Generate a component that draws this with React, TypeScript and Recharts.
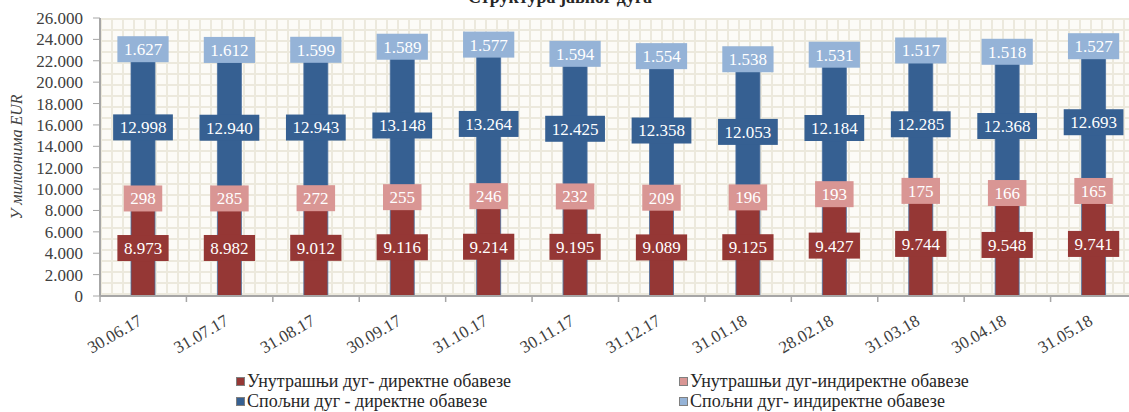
import React from 'react';
import {Bar, BarChart, CartesianGrid, LabelList, Legend, XAxis, YAxis} from 'recharts';

const dates = [
    '30.06.17', '31.07.17', '31.08.17', '30.09.17', '31.10.17', '30.11.17',
    '31.12.17', '31.01.18', '28.02.18', '31.03.18', '30.04.18', '31.05.18',
];
const domesticDirect = [8973, 8982, 9012, 9116, 9214, 9195, 9089, 9125, 9427, 9744, 9548, 9741];
const domesticIndirect = [298, 285, 272, 255, 246, 232, 209, 196, 193, 175, 166, 165];
const externalDirect = [12998, 12940, 12943, 13148, 13264, 12425, 12358, 12053, 12184, 12285, 12368, 12693];
const externalIndirect = [1627, 1612, 1599, 1589, 1577, 1594, 1554, 1538, 1531, 1517, 1518, 1527];
const yTicks = [0, 2000, 4000, 6000, 8000, 10000, 12000, 14000, 16000, 18000, 20000, 22000, 24000, 26000];

const series = [
    {key: 'domDirect', name: 'Унутрашњи дуг- директне обавезе', color: '#953735'},
    {key: 'domIndirect', name: 'Унутрашњи дуг-индиректне обавезе', color: '#D99694'},
    {key: 'extDirect', name: 'Спољни дуг - директне обавезе', color: '#366092'},
    {key: 'extIndirect', name: 'Спољни дуг- индиректне обавезе', color: '#95B3D7'},
];

const data = dates.map((d, i) => ({
    date: d,
    domDirect: domesticDirect[i],
    domIndirect: domesticIndirect[i],
    extDirect: externalDirect[i],
    extIndirect: externalIndirect[i],
}));

const FONT = '"Liberation Serif", "Times New Roman", serif';

const fmt = (v: number) => String(v).replace(/\B(?=(\d{3})+(?!\d))/g, '.');

const textWidth = (s: string, size: number) =>
    s.split('').reduce((a, c) => a + (c === '.' ? 0.25 : 0.5) * size, 0);

const makeBoxLabel = (color: string) => (props: any) => {
    const {x, y, width, height, value} = props;
    const txt = fmt(value);
    const w = textWidth(txt, 17) + 13;
    const h = 26;
    const cx = x + width / 2;
    const cy = y + height / 2;
    return (
        <g>
            <rect x={cx - w / 2} y={cy - h / 2} width={w} height={h} fill={color}/>
            <text x={cx} y={cy} dy="0.35em" textAnchor="middle" fill="#ffffff"
                  fontSize={17} fontFamily={FONT}>{txt}</text>
        </g>
    );
};

const XTick = (props: any) => {
    const {x, y, payload} = props;
    const half = payload.offset || 43.2;
    const ax = x;
    const ay = y + 28;
    return (
        <g>
            <line x1={x - half} y1={y} x2={x - half} y2={y + 6} stroke="#A6A6A6" strokeWidth={1.5}/>
            <text x={ax} y={ay} textAnchor="end" fontSize={17} fontFamily={FONT}
                  fill="#404040" transform={`rotate(-30, ${ax}, ${ay})`}>{payload.value}</text>
        </g>
    );
};

const YLabel = () => (
    <text x={22} y={157} textAnchor="middle" fontSize={16} fontStyle="italic" fontFamily={FONT}
          fill="#404040" transform="rotate(-90, 22, 157)">У милионима EUR</text>
);

const legendPos = [
    {left: 236, top: 371},
    {left: 679, top: 371},
    {left: 236, top: 391},
    {left: 679, top: 391},
];

const renderLegend = () => (
    <div style={{position: 'relative', width: 1129, height: 44}}>
        {series.map((s, i) => (
            <div key={s.key} style={{
                position: 'absolute', left: legendPos[i].left, top: legendPos[i].top - 371,
                display: 'flex', alignItems: 'center', fontFamily: FONT, fontSize: 18,
                color: '#262626', whiteSpace: 'nowrap', lineHeight: '20px',
            }}>
                <span style={{
                    display: 'inline-block', width: 7, height: 7, background: s.color,
                    border: '1px solid #7f7f7f', marginRight: 2,
                }}/>
                {s.name}
            </div>
        ))}
    </div>
);

export default function App() {
    return (
        <div style={{
            position: 'absolute', left: 0, top: 0, width: 1129, height: 412, overflow: 'hidden',
            background: '#fff', fontFamily: FONT,
        }}>
            <svg width={0} height={0} style={{position: 'absolute'}}>
                <defs>
                    <pattern id="bgGrid" patternUnits="userSpaceOnUse" x={100} y={18} width={11} height={11}>
                        <rect x={0} y={0} width={11} height={11} fill="#FCFBF7"/>
                        <rect x={0} y={0} width={11} height={2} fill="#ECE9DD"/>
                        <rect x={0} y={0} width={2} height={11} fill="#ECE9DD"/>
                    </pattern>
                </defs>
            </svg>
            <BarChart width={1140} height={412} data={data} barSize={24}
                      margin={{top: 18, right: 3, bottom: 0, left: 0}}>
                <text x={560} y={3} textAnchor="middle" fontSize={18} fontWeight="bold" fontFamily={FONT}
                      fill="#262626">Структура јавног дуга</text>
                <CartesianGrid fill="url(#bgGrid)" stroke="none" horizontal={false} vertical={false}/>
                <XAxis dataKey="date" height={116} interval={0} tickLine={false} tickSize={0} tickMargin={0}
                       axisLine={{stroke: '#A6A6A6', strokeWidth: 2}} tick={<XTick/>}/>
                <YAxis width={100} domain={[0, 26000]} ticks={yTicks} interval={0} tickFormatter={fmt}
                       tickSize={7} tickMargin={10}
                       axisLine={{stroke: '#A6A6A6', strokeWidth: 2}} tickLine={{stroke: '#A6A6A6'}}
                       tick={{fontSize: 17, fontFamily: FONT, fill: '#404040'}}
                       label={<YLabel/>}/>
                <Legend layout="vertical" align="center" verticalAlign="middle" content={renderLegend}
                        wrapperStyle={{position: 'absolute', left: 0, top: 371, width: 1129, height: 44}}/>
                {series.map((s) => (
                    <Bar key={s.key} dataKey={s.key} name={s.name} stackId="debt" fill={s.color}
                         stroke="#4A6E9E" strokeWidth={0.8} isAnimationActive={false}>
                        <LabelList dataKey={s.key} content={makeBoxLabel(s.color)}/>
                    </Bar>
                ))}
            </BarChart>
        </div>
    );
}
